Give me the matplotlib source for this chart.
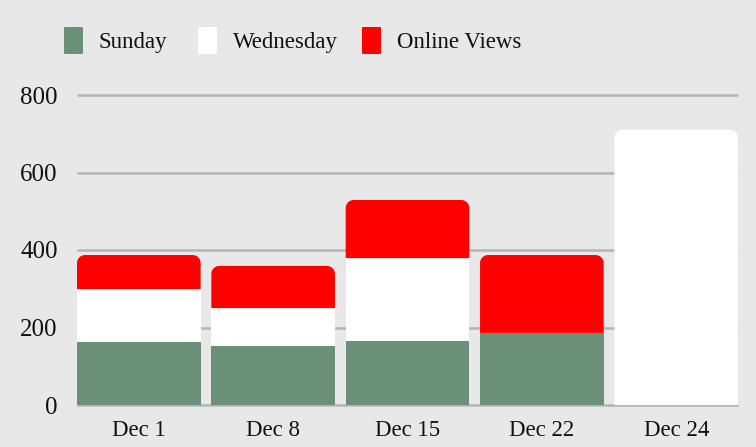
import matplotlib
matplotlib.use("Agg")
import matplotlib.pyplot as plt
from matplotlib.patches import Polygon, Rectangle, FancyBboxPatch
import numpy as np

categories = ["Dec 1", "Dec 8", "Dec 15", "Dec 22", "Dec 24"]
sunday = [163, 152, 165, 186, 0]
wednesday = [136, 98, 214, 0, 710]
online_views = [88, 109, 150, 201, 0]
series_names = ["Sunday", "Wednesday", "Online Views"]
colors = ["#6b9078", "#ffffff", "#ff0000"]
yticks = [0, 200, 400, 600, 800]

plt.rcParams['font.family'] = ['Liberation Serif', 'DejaVu Serif']
bg = "#e8e8e8"
W, H = 756, 447
fig = plt.figure(figsize=(W / 100, H / 100), dpi=100, facecolor=bg)
ax_left, ax_right, ax_bottom, ax_top = 77, 738, 405, 95
ax = fig.add_axes([ax_left / W, 1 - ax_bottom / H, (ax_right - ax_left) / W,
                   (ax_bottom - ax_top) / H], facecolor=bg)

n = len(categories)
x = np.arange(n)
width = 0.92
ax.set_xlim(-width / 2, n - 1 + width / 2)
ax.set_ylim(0, 800)

px_x = (ax_right - ax_left) / (n - 1 + width)
px_y = (ax_bottom - ax_top) / 800
rad_px = 8
rx = rad_px / px_x
ry = rad_px / px_y


def rounded_top(left, bottom, w, h):
    ryy = min(ry, h)
    t = np.linspace(0, np.pi / 2, 12)
    pts = [(left, bottom), (left + w, bottom), (left + w, bottom + h - ryy)]
    for a in t:
        pts.append((left + w - rx + rx * np.cos(a), bottom + h - ryy + ryy * np.sin(a)))
    for a in t:
        pts.append((left + rx - rx * np.sin(a), bottom + h - ryy + ryy * np.cos(a)))
    pts.append((left, bottom))
    return pts


data = [sunday, wednesday, online_views]
for i in range(n):
    bottom = 0
    vals = [s[i] for s in data]
    top_idx = max(j for j, v in enumerate(vals) if v > 0)
    for j, v in enumerate(vals):
        if v <= 0:
            continue
        left = x[i] - width / 2
        if j == top_idx:
            ax.add_patch(Polygon(rounded_top(left, bottom, width, v), closed=True,
                                 facecolor=colors[j], edgecolor="none", zorder=3))
        else:
            ax.add_patch(Rectangle((left, bottom), width, v,
                                   facecolor=colors[j], edgecolor="none", zorder=3))
        bottom += v

for t in yticks:
    ax.axhline(t, color="#b4b4b4", lw=1.8, zorder=1, clip_on=False,
               solid_capstyle="butt")

for s in ax.spines.values():
    s.set_visible(False)
ax.set_xticks(x)
ax.set_xticklabels(categories, fontsize=16.5, color="#111111")
ax.set_yticks(yticks)
ax.set_yticklabels([str(t) for t in yticks], fontsize=18, color="#111111")
ax.tick_params(length=0)
ax.tick_params(axis="y", pad=14)
ax.tick_params(axis="x", pad=11)

# legend drawn manually at reference positions
patch_x = [64, 198, 362]
text_x = [99, 233, 397]
for px, tx, c, name in zip(patch_x, text_x, colors, series_names):
    fig.patches.append(FancyBboxPatch((px / W, 1 - 54 / H), 19 / W, 27 / H,
                                      boxstyle="round,pad=0,rounding_size=0.002",
                                      transform=fig.transFigure, facecolor=c,
                                      edgecolor="none"))
    fig.text(tx / W, 1 - 48 / H, name, fontsize=16.5, color="#111111",
             ha="left", va="baseline")

fig.savefig("out.png", dpi=100, facecolor=bg)
